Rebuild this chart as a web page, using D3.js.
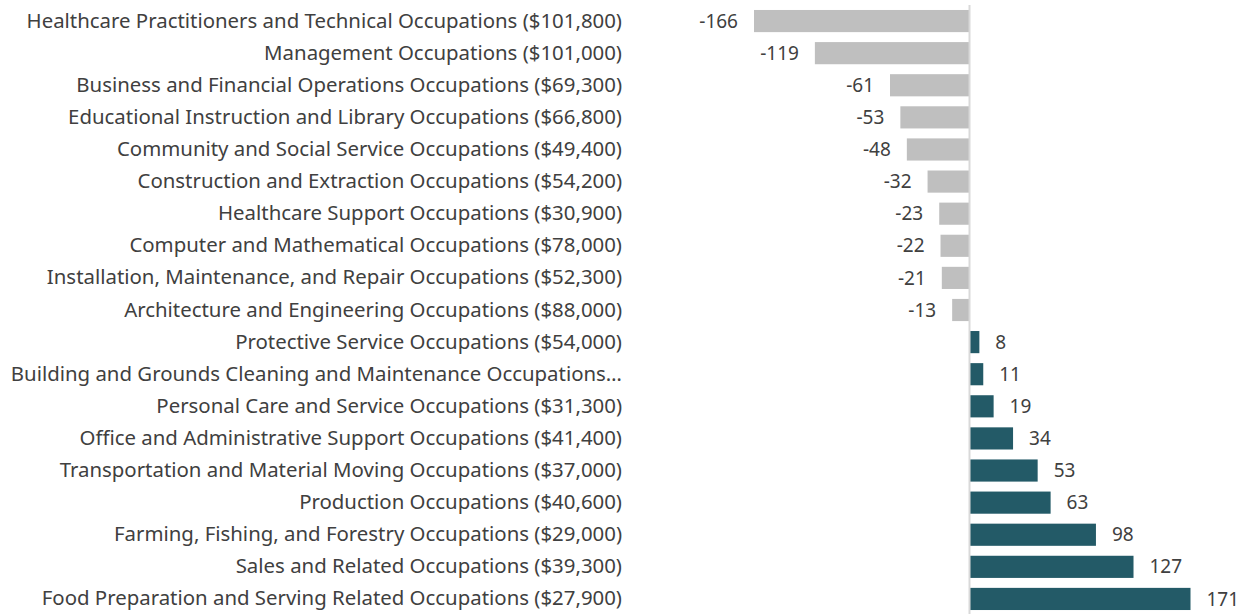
<!DOCTYPE html>
<html>
<head>
<meta charset="utf-8">
<script src="https://cdn.jsdelivr.net/npm/d3@7"></script>
<style>
  html, body { margin: 0; padding: 0; background: #fff; }
  svg { display: block; }
</style>
</head>
<body>
<svg></svg>
<script>
// Occupation labels (median wage in parentheses), top to bottom
const categories = [
    "Healthcare Practitioners and Technical Occupations ($101,800)",
    "Management Occupations ($101,000)",
    "Business and Financial Operations Occupations ($69,300)",
    "Educational Instruction and Library Occupations ($66,800)",
    "Community and Social Service Occupations ($49,400)",
    "Construction and Extraction Occupations ($54,200)",
    "Healthcare Support Occupations ($30,900)",
    "Computer and Mathematical Occupations ($78,000)",
    "Installation, Maintenance, and Repair Occupations ($52,300)",
    "Architecture and Engineering Occupations ($88,000)",
    "Protective Service Occupations ($54,000)",
    "Building and Grounds Cleaning and Maintenance Occupations\u2026",
    "Personal Care and Service Occupations ($31,300)",
    "Office and Administrative Support Occupations ($41,400)",
    "Transportation and Material Moving Occupations ($37,000)",
    "Production Occupations ($40,600)",
    "Farming, Fishing, and Forestry Occupations ($29,000)",
    "Sales and Related Occupations ($39,300)",
    "Food Preparation and Serving Related Occupations ($27,900)"
];

const values = [-166, -119, -61, -53, -48, -32, -23, -22, -21, -13,
    8, 11, 19, 34, 53, 63, 98, 127, 171];

const data = categories.map((c, i) => ({ name: c, value: values[i] }));

// Dimensions
const svgWidth = 1249;
const svgHeight = 614;
const labelRight = 622;

const svg = d3.select("svg")
    .attr("width", svgWidth)
    .attr("height", svgHeight)
    .style("font-family", "'Noto Sans', sans-serif");

// Scales
const xScale = d3.scaleLinear()
    .domain([d3.min(values), d3.max(values)])
    .range([754, 1190.5]);

const yScale = d3.scaleBand()
    .domain(categories)
    .range([5, 615])
    .paddingInner(0.31)
    .paddingOuter(0.155);

// Bars
svg.selectAll(".bar")
    .data(data)
    .enter()
    .append("rect")
    .attr("class", "bar")
    .attr("x", d => xScale(Math.min(0, d.value)))
    .attr("y", d => yScale(d.name))
    .attr("width", d => Math.abs(xScale(d.value) - xScale(0)))
    .attr("height", yScale.bandwidth())
    .attr("fill", d => d.value < 0 ? "#bfbfbf" : "#235a67");

// Zero line
svg.append("line")
    .attr("x1", xScale(0) + 0.5)
    .attr("x2", xScale(0) + 0.5)
    .attr("y1", 5)
    .attr("y2", svgHeight)
    .attr("stroke", "#d9d9d9")
    .attr("stroke-width", 2);

// Category labels (left axis)
const yAxis = d3.axisLeft(yScale).tickSize(0).tickPadding(0);
const axisG = svg.append("g")
    .attr("transform", `translate(${labelRight},0)`)
    .call(yAxis);
axisG.select(".domain").remove();
axisG.selectAll("text")
    .attr("fill", "#404040")
    .style("font-size", "20.4px")
    .style("font-family", "'Noto Sans', sans-serif");

// Value labels
svg.selectAll(".value")
    .data(data)
    .enter()
    .append("text")
    .attr("class", "value")
    .attr("x", d => d.value < 0 ? xScale(d.value) - 16 : xScale(d.value) + 16)
    .attr("y", d => yScale(d.name) + yScale.bandwidth() / 2)
    .attr("dy", "0.35em")
    .attr("text-anchor", d => d.value < 0 ? "end" : "start")
    .attr("fill", "#404040")
    .style("font-size", "19px")
    .text(d => d.value);
</script>
</body>
</html>
